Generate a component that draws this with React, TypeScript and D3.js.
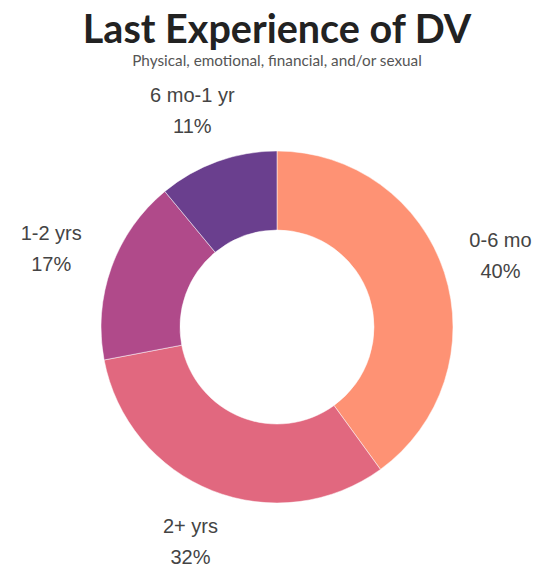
import React from 'react';
import * as d3 from 'd3';

const categories = ['0-6 mo', '2+ yrs', '1-2 yrs', '6 mo-1 yr'];
const shares = [40, 32, 17, 11];
const colors = ['#fe9274', '#e1687f', '#b04a8a', '#6a3f8e'];

const width = 554;
const height = 569;
const cx = 277;
const cy = 327;
const outerR = 176;
const innerR = 97;
const labelR = 205;
const fontSize = 20;
const lineGap = 31;

const App = () => {
  const pie = d3.pie<number>().sort(null).value((d) => d);
  const arcs = pie(shares);
  const arc = d3.arc<d3.PieArcDatum<number>>().innerRadius(innerR).outerRadius(outerR);
  const labelArc = d3.arc<d3.PieArcDatum<number>>().innerRadius(labelR).outerRadius(labelR);

  return (
    <svg width={width} height={height} style={{ position: 'absolute', left: 0, top: 0, background: '#fff' }}>
      <text x={cx} y={43} textAnchor="middle" fontFamily="Lato" fontWeight={700} fontSize={39.5} fill="#222">
        Last Experience of DV
      </text>
      <text x={cx} y={66} textAnchor="middle" fontFamily="Lato" fontSize={15.3} fill="#555">
        Physical, emotional, financial, and/or sexual
      </text>
      <g transform={`translate(${cx},${cy})`}>
        {arcs.map((a, i) => (
          <path key={categories[i]} d={arc(a) || ''} fill={colors[i]} stroke="#fff" strokeWidth={0.5} />
        ))}
        {arcs.map((a, i) => {
          // push the two-line box outward so its nearest edge sits near the anchor
          const [px, py] = labelArc.centroid(a);
          const mid = (a.startAngle + a.endAngle) / 2;
          const w = categories[i].length * fontSize * 0.5;
          const h = lineGap + fontSize;
          const lx = px + Math.sin(mid) * w / 2;
          const ly = py - Math.cos(mid) * h / 2;
          return (
            <text key={'l' + i} textAnchor="middle" fontFamily="Liberation Sans, Arial, sans-serif" fontSize={fontSize} fill="#444">
              <tspan x={lx} y={ly - lineGap / 2 + 7}>{categories[i]}</tspan>
              <tspan x={lx} y={ly + lineGap / 2 + 7}>{shares[i]}%</tspan>
            </text>
          );
        })}
      </g>
    </svg>
  );
};

export default App;
